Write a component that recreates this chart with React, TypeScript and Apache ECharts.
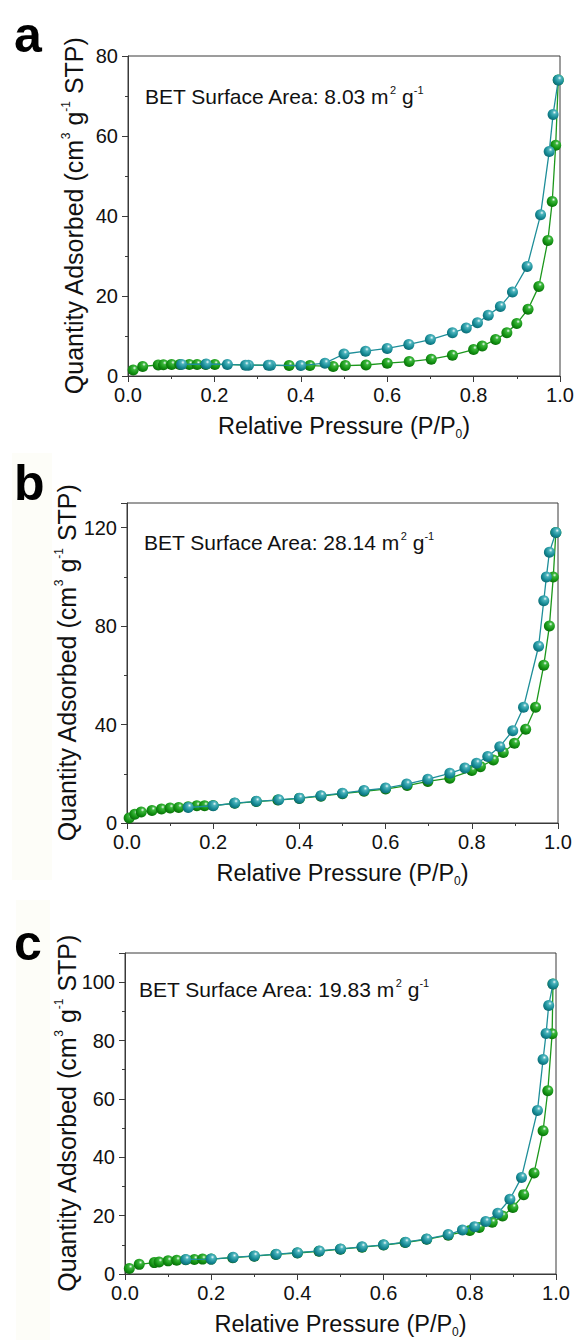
import React, { useEffect, useRef } from "react";
import * as echarts from "echarts";

// ---- Panel a (BET 8.03) ----
const aAdsX = [0.012, 0.034, 0.07, 0.082, 0.101, 0.12, 0.142, 0.16, 0.18, 0.201, 0.373, 0.421, 0.475, 0.503, 0.551, 0.6, 0.651, 0.702, 0.751, 0.8, 0.82, 0.851, 0.877, 0.9, 0.926, 0.951, 0.972, 0.982, 0.99, 0.996];
const aAdsY = [1.5, 2.4, 2.75, 2.8, 2.9, 2.9, 2.9, 2.9, 2.9, 2.9, 2.6, 2.6, 2.4, 2.6, 2.75, 3.2, 3.6, 4.2, 5.2, 6.6, 7.5, 9.1, 10.8, 13.1, 16.7, 22.4, 33.9, 43.6, 57.7, 74.0];
const aDesX = [0.996, 0.984, 0.975, 0.955, 0.924, 0.89, 0.862, 0.834, 0.809, 0.783, 0.751, 0.70, 0.65, 0.60, 0.55, 0.50, 0.456, 0.40, 0.33, 0.325, 0.279, 0.272, 0.23, 0.181, 0.124];
const aDesY = [74.0, 65.4, 56.1, 40.3, 27.4, 21.0, 17.4, 15.2, 13.3, 12.0, 10.8, 9.1, 7.9, 6.9, 6.2, 5.5, 3.2, 2.6, 2.7, 2.7, 2.7, 2.7, 2.9, 3.0, 2.9];

// ---- Panel b (BET 28.14) ----
const bAdsX = [0.005, 0.018, 0.033, 0.058, 0.08, 0.1, 0.12, 0.142, 0.162, 0.18, 0.2, 0.25, 0.3, 0.35, 0.4, 0.45, 0.5, 0.55, 0.6, 0.65, 0.698, 0.749, 0.8, 0.82, 0.85, 0.873, 0.899, 0.925, 0.948, 0.967, 0.98, 0.989, 0.995];
const bAdsY = [2.0, 3.6, 4.5, 5.1, 5.7, 6.1, 6.3, 6.6, 7.0, 7.0, 7.1, 8.0, 8.7, 9.3, 10.0, 10.9, 11.9, 12.9, 13.8, 15.2, 16.9, 18.2, 21.3, 22.9, 25.6, 28.6, 32.4, 38.1, 47.0, 64.1, 80.0, 99.9, 118.0];
const bDesX = [0.995, 0.98, 0.973, 0.967, 0.955, 0.92, 0.895, 0.865, 0.837, 0.811, 0.784, 0.749, 0.698, 0.649, 0.6, 0.55, 0.5, 0.45, 0.4, 0.352, 0.3, 0.25, 0.2, 0.142];
const bDesY = [118.0, 110.0, 99.9, 90.3, 71.8, 47.0, 37.5, 31.0, 27.0, 24.3, 22.3, 20.2, 17.8, 15.8, 14.2, 13.2, 12.1, 11.1, 10.1, 9.4, 8.8, 8.1, 7.0, 6.3];

// ---- Panel c (BET 19.83) ----
const cAdsX = [0.01, 0.033, 0.068, 0.079, 0.1, 0.12, 0.141, 0.161, 0.18, 0.2, 0.25, 0.3, 0.35, 0.4, 0.45, 0.5, 0.55, 0.6, 0.65, 0.7, 0.75, 0.8, 0.822, 0.852, 0.876, 0.9, 0.925, 0.949, 0.97, 0.981, 0.991, 0.993];
const cAdsY = [1.9, 3.3, 3.9, 4.1, 4.5, 4.7, 4.9, 5.0, 5.1, 5.1, 5.6, 6.1, 6.7, 7.2, 7.8, 8.5, 9.2, 9.9, 10.8, 11.9, 13.3, 14.9, 15.9, 17.7, 19.9, 22.8, 27.2, 34.6, 49.1, 62.8, 82.3, 99.4];
const cDesX = [0.993, 0.983, 0.977, 0.97, 0.957, 0.92, 0.893, 0.865, 0.837, 0.811, 0.783, 0.75, 0.7, 0.651, 0.6, 0.55, 0.5, 0.451, 0.4, 0.351, 0.3, 0.251, 0.2, 0.141];
const cDesY = [99.4, 92.0, 82.4, 73.5, 56.0, 33.1, 25.6, 20.8, 18.0, 16.2, 15.1, 13.5, 12.0, 10.9, 10.0, 9.3, 8.6, 7.9, 7.3, 6.8, 6.2, 5.7, 5.1, 5.0];

const panelLetters = ["a", "b", "c"];
const betLabels = ["8.03", "28.14", "19.83"];
const yMaxes = [80, 130, 110];
const yIntervals = [20, 40, 20];
const xTicks = [0, 0.2, 0.4, 0.6, 0.8, 1.0];

const FONT = "'Liberation Sans', Arial, Helvetica, sans-serif";
const TEAL = "#1e8e99";
const GREEN = "#1c971c";
const AXIS = "#3a3a3a";

function pairs(xs: number[], ys: number[]) {
  return xs.map((x, i) => [x, ys[i]]);
}

function sphere(base: string, dark: string, light: string) {
  return new echarts.graphic.RadialGradient(0.62, 0.32, 0.75, [
    { offset: 0, color: "#f2fbfb" },
    { offset: 0.22, color: light },
    { offset: 0.65, color: base },
    { offset: 1, color: dark },
  ]);
}

export default function App() {
  const ref = useRef<HTMLDivElement>(null);
  useEffect(() => {
    if (!ref.current) return;
    const chart = echarts.init(ref.current, null, { renderer: "svg" });

    const grids = [
      { left: 128, top: 56, width: 432, height: 320 },
      { left: 127, top: 503, width: 431, height: 320 },
      { left: 125, top: 953, width: 431, height: 321 },
    ];
    const yNameGaps = [40, 46, 44];

    const data = [
      [pairs(aAdsX, aAdsY), pairs(aDesX, aDesY)],
      [pairs(bAdsX, bAdsY), pairs(bDesX, bDesY)],
      [pairs(cAdsX, cAdsY), pairs(cDesX, cDesY)],
    ];

    const tickLabel = { fontFamily: FONT, fontSize: 20, color: "#111" };

    const option: any = {
      animation: false,
      backgroundColor: "#ffffff",
      grid: grids.map((g) => ({
        ...g,
        show: true,
        borderColor: AXIS,
        borderWidth: 1,
        backgroundColor: "transparent",
        containLabel: false,
      })),
      xAxis: grids.map((_, i) => ({
        type: "value",
        gridIndex: i,
        min: 0,
        max: 1,
        interval: 0.2,
        name: "Relative Pressure (P/P{sub|0})",
        nameLocation: "middle",
        nameGap: 35,
        nameMoveOverlap: false,
        nameTextStyle: {
          fontFamily: FONT,
          fontSize: 23.5,
          color: "#111",
          lineHeight: 29,
          rich: {
            sub: { fontFamily: FONT, fontSize: 12, color: "#111", verticalAlign: "bottom", lineHeight: 14 },
          },
        },
        axisLine: { show: true, lineStyle: { color: AXIS, width: 1 } },
        axisTick: { show: true, inside: false, length: 6, lineStyle: { color: AXIS } },
        minorTick: { show: true, splitNumber: 2, length: 3, lineStyle: { color: AXIS } },
        splitLine: { show: false },
        axisLabel: {
          ...tickLabel,
          margin: 9,
          formatter: (v: number) => (xTicks.some((t) => Math.abs(t - v) < 1e-9) ? v.toFixed(1) : ""),
        },
      })),
      yAxis: grids.map((_, i) => ({
        type: "value",
        gridIndex: i,
        min: 0,
        max: yMaxes[i],
        interval: yIntervals[i],
        name: "Quantity Adsorbed (cm{sup|3} g{sup|-1} STP)",
        nameLocation: "middle",
        nameGap: yNameGaps[i],
        nameMoveOverlap: false,
        nameRotate: 90,
        nameTextStyle: {
          fontFamily: FONT,
          fontSize: 25,
          color: "#111",
          lineHeight: 28,
          rich: {
            sup: { fontFamily: FONT, fontSize: 12, color: "#111", verticalAlign: "top", lineHeight: 13 },
          },
        },
        axisLine: { show: true, lineStyle: { color: AXIS, width: 1 } },
        axisTick: { show: true, inside: false, length: 6, lineStyle: { color: AXIS } },
        minorTick: { show: true, splitNumber: 2, length: 3, lineStyle: { color: AXIS } },
        splitLine: { show: false },
        axisLabel: {
          ...tickLabel,
          margin: 10,
          formatter: (v: number) => (v % yIntervals[i] === 0 && v <= yMaxes[i] - (yMaxes[i] % yIntervals[i] === 0 ? 0 : 1) ? String(v) : ""),
        },
      })),
      series: data.flatMap((pair, i) => [
        {
          type: "line",
          xAxisIndex: i,
          yAxisIndex: i,
          data: pair[0],
          symbol: "circle",
          symbolSize: 11,
          showSymbol: true,
          lineStyle: { color: GREEN, width: 1.3 },
          itemStyle: { color: sphere("#119011", "#0a650a", "#3cb63c") },
          z: 2,
        },
        {
          type: "line",
          xAxisIndex: i,
          yAxisIndex: i,
          data: pair[1],
          symbol: "circle",
          symbolSize: 11,
          showSymbol: true,
          lineStyle: { color: TEAL, width: 1.3 },
          itemStyle: { color: sphere("#148893", "#0b646c", "#4bb3bc") },
          z: 3,
        },
      ]),
      graphic: [
        { type: "rect", shape: { x: 12, y: 453, width: 40, height: 427 }, style: { fill: "#fdfdf8" }, z: -10 },
        { type: "rect", shape: { x: 16, y: 900, width: 34, height: 440 }, style: { fill: "#fdfdf8" }, z: -10 },
        ...panelLetters.map((t, i) => ({
          type: "text",
          left: 14,
          top: [10, 458, 918][i],
          style: { text: t, font: `bold 50px ${FONT}`, fill: "#000" },
        })),
        ...betLabels.map((v, i) => ({
          type: "text",
          left: [145, 144, 139][i],
          top: [84, 530, 977][i],
          style: {
            text: `BET Surface Area: ${v} m{sup|2} g{sup|-1}`,
            font: `21px ${FONT}`,
            fill: "#111",
            lineHeight: 25,
            rich: {
              sup: { font: `11px ${FONT}`, fill: "#111", verticalAlign: "top", lineHeight: 12 },
            },
          },
        })),
      ],
    };
    chart.setOption(option);
    return () => chart.dispose();
  }, []);
  return (
    <div
      ref={ref}
      style={{ position: "absolute", left: 0, top: 0, width: 578, height: 1340 }}
    />
  );
}
